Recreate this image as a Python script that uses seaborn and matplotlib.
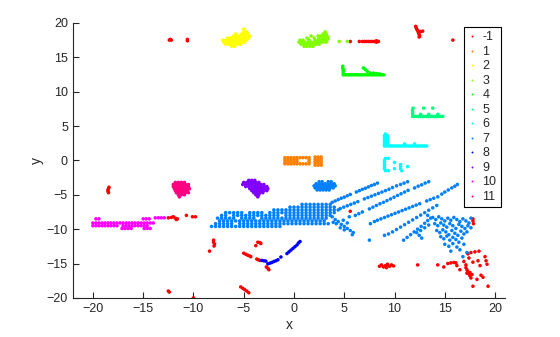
import matplotlib
matplotlib.use("Agg")
import matplotlib.pyplot as plt
import pandas as pd
import seaborn as sns

sns.set_style("ticks")
plt.rcParams["font.family"] = ["Liberation Sans", "DejaVu Sans"]

labels = ["-1", "1", "2", "3", "4", "5", "6", "7", "8", "9", "10", "11"]
colors = ["#ff0000", "#ff8000", "#ffff00", "#80ff00", "#00ff00", "#00ff80",
          "#00ffff", "#0080ff", "#0000ff", "#8000ff", "#ff00ff", "#ff0080"]
x_ticks = [-20, -15, -10, -5, 0, 5, 10, 15, 20]
y_ticks = [-20, -15, -10, -5, 0, 5, 10, 15, 20]

# ---- cluster -1 (noise) ----
pts_m1 = [(-12.4, 17.5), (-12.2, 17.5), (-12.3, 17.6), (-10.6, 17.4), (-10.6, 17.6),
          (5.6, 17.3), (6.5, 17.3), (6.8, 17.3), (7.0, 17.3), (7.2, 17.3), (7.4, 17.3),
          (7.6, 17.3), (7.8, 17.3), (8.0, 17.3), (8.2, 17.2), (8.2, 17.4), (8.4, 17.3),
          (12.1, 19.5), (12.15, 19.3), (12.2, 19.1), (12.3, 18.9), (12.35, 18.7),
          (12.6, 18.75), (12.8, 18.8), (12.4, 18.5), (12.45, 18.3), (12.5, 18.1), (12.45, 17.95),
          (15.8, 17.5),
          (-18.4, -3.9), (-18.45, -4.1), (-18.5, -4.3), (-18.5, -4.5), (-18.45, -4.7),
          (-12.5, -8.35), (-12.2, -8.3), (-12.0, -8.2), (-11.8, -8.4), (-11.7, -8.6), (-11.6, -8.5),
          (-10.7, -8.0), (-10.1, -8.2), (-9.8, -8.2),
          (-8.0, -11.6), (-8.0, -11.9), (-7.9, -12.2), (-7.95, -12.45), (-8.4, -13.2),
          (-5.0, -13.5), (-4.8, -13.65), (-4.6, -13.8), (-4.4, -13.9), (-4.3, -14.0),
          (-3.6, -11.9), (-3.4, -11.95), (-3.3, -12.1), (-3.8, -12.4),
          (-3.7, -14.35), (-3.55, -14.45), (-3.4, -14.55),
          (-2.75, -15.5), (-2.6, -15.7), (-2.5, -15.9),
          (-5.3, -18.4), (-5.1, -18.6), (-4.9, -18.8), (-4.7, -19.0), (-4.5, -19.25),
          (-10.0, -20.0), (-12.5, -19.0), (-12.4, -19.15),
          (8.5, -15.4), (8.7, -15.2), (8.9, -15.5), (9.1, -15.3), (9.3, -15.1), (9.5, -15.4),
          (9.7, -15.2), (9.9, -15.35), (9.2, -15.6),
          (12.3, -15.2), (14.3, -15.2), (14.9, -15.5),
          (15.3, -15.0), (15.6, -14.9), (15.9, -14.85), (16.1, -14.9),
          (17.8, -8.5), (17.8, -8.8), (17.85, -9.2), (5.6, -7.4),
          (16.9, -14.7), (17.1, -15.2), (17.1, -15.6), (17.2, -15.9), (17.3, -16.2), (17.4, -16.5),
          (17.5, -16.8), (17.6, -17.1), (17.2, -16.4), (17.5, -16.3), (17.7, -16.6), (17.3, -13.6),
          (17.6, -13.4), (18.0, -13.3), (18.4, -13.2), (17.4, -14.2), (17.8, -14.8), (18.3, -14.6),
          (18.5, -15.3), (19.0, -14.0), (19.1, -14.6), (19.2, -15.1), (18.6, -16.7), (18.2, -17.3),
          (18.8, -17.0), (19.3, -18.3), (17.8, -18.3), (16.5, -15.9), (16.2, -15.3)]

# ---- cluster 1 (orange) ----
rows_1 = [(0.4, [-0.9, -0.6, -0.3, 0.0, 0.3, 0.6, 0.9, 1.2, 1.5]),
          (0.1, [-0.9, -0.6, -0.3, 0.0, 0.3, 1.5]),
          (-0.2, [-0.9, -0.6, -0.3, 0.0, 0.3, 1.5]),
          (-0.5, [-0.9, -0.6, -0.3, 0.0, 0.3, 0.6, 0.9, 1.2, 1.5]),
          (0.5, [2.1, 2.4, 2.7]), (0.2, [2.1, 2.4, 2.7]), (-0.1, [2.1, 2.4, 2.7]),
          (-0.4, [2.1, 2.4, 2.7]), (-0.7, [2.1, 2.4, 2.7])]

# ---- cluster 2 (yellow) ----
rows_2 = [(16.6, [-6.2, -5.9]),
          (16.9, [-6.8, -6.5, -6.2, -5.9, -5.6, -5.3]),
          (17.2, [-7.0, -6.7, -6.4, -6.1, -5.8, -5.5, -5.2, -4.9]),
          (17.5, [-7.1, -6.8, -6.5, -6.2, -5.9, -5.6, -5.3, -5.0, -4.7]),
          (17.8, [-6.6, -6.3, -6.0, -5.7, -5.4, -5.1, -4.8, -4.5]),
          (18.1, [-6.0, -5.7, -5.4, -5.1, -4.8, -4.4]),
          (18.4, [-5.8, -5.2, -4.9, -4.6]),
          (18.7, [-5.0, -4.7]),
          (19.1, [-5.0])]

# ---- cluster 3 (chartreuse) ----
rows_3 = [(16.6, [1.0, 1.3, 1.6, 1.9]),
          (16.9, [0.7, 1.0, 1.3, 1.6, 1.9, 2.2, 2.5]),
          (17.2, [0.5, 0.8, 1.1, 1.4, 1.7, 2.0, 2.3, 2.6, 2.9, 3.2]),
          (17.5, [0.6, 0.9, 1.5, 2.1, 2.4, 2.7, 3.0, 3.3]),
          (17.8, [1.3, 2.0, 2.5, 2.8, 3.1, 3.4]),
          (18.1, [1.7, 2.4, 2.7, 3.0, 3.3]),
          (18.4, [2.9, 3.2]),
          (18.7, [3.1]),
          (17.3, [4.5, 5.3])]

# ---- cluster 4 (green) ----
rows_4 = [(12.45, [4.9, 5.1, 5.3, 5.5, 5.7, 5.9, 6.1, 6.3, 6.5, 6.7, 6.9, 7.1, 7.3, 7.5, 7.7,
                   7.9, 8.1, 8.3, 8.5, 8.7, 8.9]),
          (12.7, [4.9, 7.6, 7.9]), (12.95, [4.9, 7.3]), (13.2, [4.9, 7.1]),
          (13.45, [4.85, 6.9]), (13.7, [4.85]), (12.6, [8.2, 8.5])]

# ---- cluster 5 (spring green) ----
rows_5 = [(6.4, [11.8, 12.0, 12.2, 12.4, 12.6, 12.8, 13.0, 13.2, 13.4, 13.6, 13.8, 14.0,
                 14.2, 14.4, 14.6, 14.8]),
          (6.7, [11.8, 12.6, 13.4, 14.3]), (7.0, [11.8]), (7.3, [11.8]), (7.6, [11.85, 12.9, 13.8])]

# ---- cluster 6 (cyan) ----
rows_6 = [(2.1, [9.0, 9.2, 9.4, 9.6, 9.8, 10.0, 10.2, 10.4, 10.6, 10.8, 11.0, 11.2, 11.4, 11.6,
                 11.8, 12.0, 12.2, 12.4, 12.6, 12.8, 13.0, 13.2]),
          (2.4, [9.0, 9.3, 11.0, 12.0]), (2.7, [9.0, 9.3]), (3.0, [9.0, 9.3]),
          (3.3, [9.0, 9.3]), (3.6, [9.0, 9.3]), (3.85, [9.1]),
          (0.3, [9.1, 9.4]), (0.0, [9.0]), (-0.3, [9.0, 10.0]), (-0.6, [9.0, 10.6]),
          (-0.9, [9.0, 10.6, 11.3]), (-1.2, [9.0, 10.0, 10.6]), (-1.5, [9.1, 9.4, 10.7])]

# ---- cluster 7 (azure) ----
rows_7 = [(-3.1, [2.5, 2.8, 3.4, 3.7]),
          (-3.4, [2.2, 2.5, 2.8, 3.1, 3.4, 3.7, 4.0]),
          (-3.7, [2.0, 2.3, 2.6, 2.9, 3.2, 3.5, 3.8, 4.1]),
          (-4.0, [2.1, 2.4, 2.7, 3.0, 3.3, 3.6, 3.9]),
          (-4.3, [2.3, 2.6, 2.9, 3.2, 3.5]),
          (-6.4, [0.8, 1.2, 1.6, 2.0, 2.4, 2.8, 3.2, 3.6]),
          (-6.8, [-0.4, 0.0, 0.4, 0.8, 1.2, 1.6, 2.0, 2.4, 2.8, 3.2, 3.6, 4.0]),
          (-7.2, [-2.0, -1.6, -1.2, -0.8, -0.4, 0.0, 0.4, 0.8, 1.2, 1.6, 2.0, 2.4, 2.8, 3.2,
                  3.6, 4.0, 4.4]),
          (-7.6, [-6.8, -6.4, -6.0, -5.6, -5.2, -4.4, -4.0, -3.6, -3.2, -2.4, -2.0, -1.6, -1.2,
                  -0.8, -0.4, 0.0, 0.4, 0.8, 1.2, 1.6, 2.0, 2.4, 2.8, 3.2, 3.6, 4.0]),
          (-8.0, [-7.2, -6.8, -6.0, -5.6, -5.2, -4.8, -4.4, -4.0, -3.6, -3.2, -2.8, -2.4, -2.0,
                  -1.6, -0.8, -0.4, 0.0, 0.4, 0.8, 1.2, 1.6, 2.0, 2.4, 2.8, 3.2, 3.6]),
          (-8.4, [-7.6, -7.2, -6.8, -6.4, -6.0, -5.2, -4.8, -4.4, -4.0, -3.2, -2.8, -2.4, -2.0,
                  -1.6, -1.2, -0.8, -0.4, 0.0, 0.4, 0.8, 1.2, 1.6, 2.0, 2.4, 2.8, 3.2]),
          (-8.8, [-7.4, -7.0, -6.6, -6.2, -5.8, -5.4, -5.0, -4.6, -4.2, -3.8, -3.4, -3.0, -2.6,
                  -2.2, -1.8, -1.4, -1.0, -0.6, -0.2, 0.2, 0.6, 1.0, 1.4, 1.8, 2.2, 2.6, 3.0]),
          (-9.2, [-7.8, -7.4, -7.0, -6.6, -6.2, -5.4, -5.0, -4.6, -4.2, -3.8, -3.4, -3.0, -2.6,
                  -2.2, -1.8, -1.4, -1.0, -0.6, -0.2, 0.2, 0.6, 1.0, 1.4, 1.8, 2.2, 2.6, 3.0, 3.4]),
          (-9.6, [-8.2, -7.8, -7.4, -7.0, -6.6, -6.2, -5.8, -5.4, -5.0, -4.6, -4.2, -3.8, -3.4,
                  -3.0, -2.6, -2.2, -1.8, -1.4])]
pts_7 = [(3.8, -6.1), (4.1, -5.9), (4.4, -5.7), (4.7, -5.5), (5.0, -5.35), (5.3, -5.15),
         (5.6, -4.95), (6.2, -4.6), (6.5, -4.4), (6.8, -4.2), (7.1, -4.05), (7.4, -3.85),
         (7.7, -3.65), (8.0, -3.5), (8.3, -3.3),
         (4.6, -7.0), (4.95, -6.8), (5.3, -6.6), (5.65, -6.4), (6.0, -6.2), (6.35, -6.0),
         (7.0, -5.6), (7.35, -5.4), (7.7, -5.2), (8.05, -5.0), (8.4, -4.8), (8.75, -4.6),
         (9.1, -4.4), (9.45, -4.2), (9.8, -3.95), (10.2, -3.7), (10.6, -3.5), (10.95, -3.3), (11.3, -3.1),
         (5.5, -8.2), (6.1, -8.0), (6.45, -7.75), (6.8, -7.5), (7.5, -7.05), (7.85, -6.8),
         (8.2, -6.55), (8.55, -6.3), (8.9, -6.1), (9.25, -5.85), (9.6, -5.6), (9.95, -5.35),
         (10.3, -5.1), (10.65, -4.85), (11.0, -4.6), (11.35, -4.35), (12.0, -4.0), (12.35, -3.75),
         (12.7, -3.55), (13.05, -3.3), (13.4, -3.1),
         (7.6, -9.2), (8.0, -8.9), (8.3, -8.7), (8.65, -8.5), (9.0, -8.3), (9.35, -8.1), (9.7, -7.9),
         (10.05, -7.7), (10.4, -7.5), (10.75, -7.3), (11.1, -7.1), (11.45, -6.9), (11.8, -6.7),
         (12.15, -6.5), (12.5, -6.3), (13.2, -5.9), (13.55, -5.7), (13.9, -5.5), (14.3, -5.3),
         (14.7, -4.9), (15.0, -4.6), (15.35, -4.3), (15.7, -4.0), (16.0, -3.75), (16.25, -3.5),
         (9.0, -10.9), (9.4, -10.7), (9.8, -10.4), (10.2, -10.05), (10.6, -9.7), (11.0, -9.35),
         (11.4, -9.0), (11.8, -8.65), (12.2, -8.3), (12.6, -7.95), (13.0, -7.6), (13.4, -7.25),
         (13.8, -6.9), (14.2, -6.55),
         (10.9, -11.6), (11.25, -11.2), (11.6, -10.8), (11.95, -10.4), (12.3, -10.0), (12.65, -9.6),
         (13.0, -9.15), (13.3, -8.75), (13.6, -8.4), (12.2, -10.5), (12.45, -10.9), (12.7, -11.3),
         (3.8, -8.2), (4.1, -8.6), (4.4, -8.9), (4.7, -9.3), (5.0, -9.6), (5.3, -9.9), (5.6, -10.2),
         (5.9, -10.5), (4.2, -9.2), (4.6, -9.8), (5.0, -10.1), (3.9, -9.0), (4.9, -8.7), (5.3, -9.1),
         (7.5, -11.6), (5.8, -10.8),
         (13.8, -8.3), (14.1, -8.6), (14.4, -8.2), (14.7, -8.5), (15.0, -8.8), (15.3, -8.4),
         (15.6, -8.7), (15.9, -8.3), (16.2, -8.6), (16.5, -8.9), (16.8, -8.5), (17.1, -8.8),
         (17.4, -9.1), (17.6, -8.4),
         (14.0, -9.2), (14.3, -9.5), (14.6, -9.1), (14.9, -9.4), (15.2, -9.7), (15.5, -9.2),
         (15.8, -9.5), (16.1, -9.9), (16.4, -9.3), (16.7, -9.6), (17.0, -9.9), (17.3, -9.5), (17.6, -9.8),
         (14.2, -10.2), (14.5, -10.5), (14.8, -10.1), (15.1, -10.4), (15.4, -10.8), (15.7, -10.2),
         (16.0, -10.6), (16.3, -10.9), (16.6, -10.3), (16.9, -10.7), (17.2, -10.4),
         (14.6, -11.1), (14.9, -11.4), (15.2, -11.0), (15.5, -11.6), (15.8, -11.2), (16.1, -11.5),
         (16.4, -11.9), (16.7, -11.3),
         (15.0, -12.2), (15.4, -12.5), (15.8, -12.1), (16.2, -12.6), (16.5, -13.0), (15.6, -13.2),
         (16.9, -12.2), (17.2, -13.4), (16.8, -14.0),
         (13.4, -9.4), (13.0, -9.8), (12.6, -10.2), (13.3, -8.0)]

# ---- cluster 8 (blue) ----
pts_8 = [(-3.2, -14.55), (-3.0, -14.6), (-2.8, -14.65), (-2.6, -15.05), (-2.4, -14.95),
         (-2.2, -14.85), (-2.0, -14.7), (-1.8, -14.6), (-1.6, -14.45), (-1.3, -14.05),
         (-0.7, -13.55), (-0.5, -13.3), (-0.3, -13.05), (-0.1, -12.8), (0.1, -12.55),
         (0.3, -12.3), (0.45, -12.0), (0.6, -11.8)]

# ---- cluster 9 (violet) ----
rows_9 = [(-2.9, [-4.5, -4.2, -3.9]),
          (-3.2, [-5.0, -4.7, -4.4, -4.1, -3.8, -3.5]),
          (-3.5, [-5.1, -4.8, -4.5, -4.2, -3.9, -3.6, -3.3, -3.0]),
          (-3.8, [-4.8, -4.5, -4.2, -3.9, -3.6, -3.3, -3.0, -2.7]),
          (-4.1, [-4.4, -4.1, -3.8, -3.5, -3.2, -2.9, -2.6]),
          (-4.4, [-4.2, -3.9, -3.6, -3.3, -3.0, -2.7]),
          (-4.7, [-4.0, -3.7, -3.4, -3.1]),
          (-5.0, [-3.8, -3.5]),
          (-5.3, [-3.6])]

# ---- cluster 10 (magenta) ----
rows_10 = [(-8.5, [-19.7, -19.4, -15.0, -14.7, -14.4]),
           (-8.35, [-13.8, -13.5, -13.2, -12.9]),
           (-9.1, [-20.0, -19.7, -19.4, -19.1, -18.8, -18.5, -18.2, -17.9, -17.6, -17.3, -17.0,
                   -16.7, -16.4, -16.1, -15.8, -15.5, -15.2, -14.9, -14.6, -14.3, -14.0]),
           (-9.5, [-20.0, -19.7, -19.4, -19.1, -18.8, -18.5, -18.2, -17.9, -17.6, -17.0, -16.7,
                   -16.4, -16.1, -15.8, -15.5, -15.2, -14.9, -14.6]),
           (-9.9, [-17.1, -16.8, -16.5, -16.2, -14.9, -14.6, -14.3])]

# ---- cluster 11 (rose) ----
rows_11 = [(-3.2, [-11.8, -11.5, -11.2, -10.9]),
           (-3.5, [-12.0, -11.7, -11.4, -11.1, -10.8, -10.5]),
           (-3.8, [-12.0, -11.7, -11.4, -11.1, -10.8, -10.5]),
           (-4.1, [-11.9, -11.6, -11.3, -11.0, -10.7, -10.4]),
           (-4.4, [-11.8, -11.5, -11.2, -10.9, -10.6]),
           (-4.7, [-11.7, -11.4, -11.1, -10.8, -10.5]),
           (-5.0, [-11.5, -11.2, -10.9]),
           (-5.3, [-11.4])]


def expand(rows):
    return [(x, y) for y, xs in rows for x in xs]


clusters = {
    "-1": pts_m1,
    "1": expand(rows_1),
    "2": expand(rows_2),
    "3": expand(rows_3),
    "4": expand(rows_4),
    "5": expand(rows_5),
    "6": expand(rows_6),
    "7": expand(rows_7) + pts_7,
    "8": pts_8,
    "9": expand(rows_9),
    "10": expand(rows_10),
    "11": expand(rows_11),
}

records = []
for lab in labels:
    for x, y in clusters[lab]:
        records.append({"x": x, "y": y, "cluster": lab})
df = pd.DataFrame(records)

fig = plt.figure(figsize=(5.6, 3.37), dpi=100)
ax = fig.add_axes([0.130, 0.116, 0.772, 0.816])

sns.scatterplot(data=df, x="x", y="y", hue="cluster", hue_order=labels,
                palette=colors, s=6.5, linewidth=0, edgecolor="none", ax=ax, legend="full")

ax.set_xlim(-22, 21)
ax.set_ylim(-20, 20)
ax.set_xticks(x_ticks)
ax.set_yticks(y_ticks)
ax.tick_params(direction="in", length=4, width=0.8, labelsize=9, colors="#262626")
ax.set_xlabel("x", fontsize=10, labelpad=2)
ax.set_ylabel("y", fontsize=10, labelpad=2)
for side in ["top", "right"]:
    ax.spines[side].set_visible(False)
for side in ["left", "bottom"]:
    ax.spines[side].set_linewidth(0.8)
    ax.spines[side].set_color("#262626")

handles, labs = ax.get_legend_handles_labels()
leg = ax.legend(handles, labs, loc="upper right", bbox_to_anchor=(0.99, 0.985),
                fontsize=9, frameon=True, fancybox=False, framealpha=1,
                edgecolor="black", borderpad=0.35, labelspacing=0.2,
                handlelength=0.6, handletextpad=0.5, markerscale=0.55, borderaxespad=0)
leg.get_frame().set_linewidth(0.8)

fig.savefig("out.png", dpi=100)
